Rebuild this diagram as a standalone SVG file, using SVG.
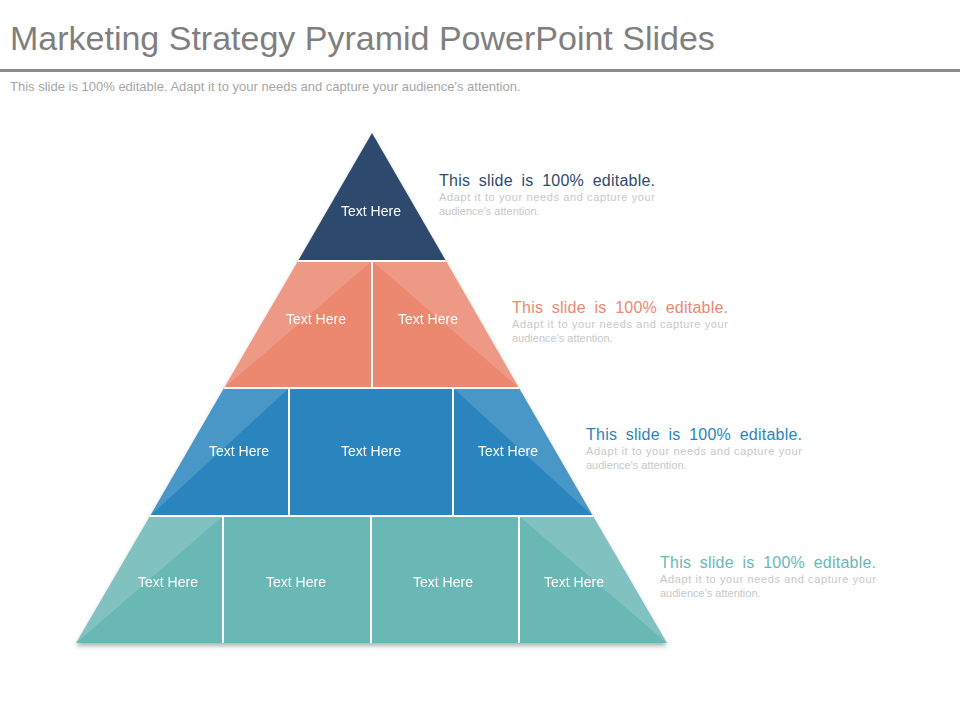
<svg xmlns="http://www.w3.org/2000/svg" width="960" height="720" viewBox="0 0 960 720">
<style>
text{font-family:"Liberation Sans",Arial,sans-serif}
.t{fill:#fff;font-size:14px;text-anchor:middle}
.h{font-size:16px;word-spacing:4px}
.s{fill:#c8c8c8;font-size:11px}
.sep{stroke:#fff;stroke-width:2}
.lt{fill:#fff;opacity:0.15}
</style>
<defs><filter id="sh" x="-5%" y="-5%" width="110%" height="120%"><feDropShadow dx="0" dy="3" stdDeviation="2" flood-color="#000" flood-opacity="0.3"/></filter></defs>
<rect width="960" height="720" fill="#fff"/>
<text x="10" y="50" font-size="34" fill="#7f7f7f">Marketing Strategy Pyramid PowerPoint Slides</text>
<rect x="0" y="69" width="960" height="3" fill="#8c8c8c"/>
<text x="10" y="91" font-size="13" fill="#a6a6a6">This slide is 100% editable. Adapt it to your needs and capture your audience's attention.</text>
<g id="pyramid" filter="url(#sh)">
<g id="tier1"><polygon points="372,133 446,261 298,261" fill="#2e4a6e"/><text class="t" x="371" y="216">Text Here</text></g>
<g id="tier2"><polygon points="298,261 446,261 519,388 224,388" fill="#ec8870"/>
<polygon class="lt" points="298,261 372,261 224,388"/><polygon class="lt" points="372,261 446,261 519,388"/>
<line class="sep" x1="372" y1="261" x2="372" y2="388"/>
<text class="t" x="316" y="324">Text Here</text><text class="t" x="428" y="324">Text Here</text></g>
<g id="tier3"><polygon points="224,388 519,388 593,516 150,516" fill="#2a85be"/>
<polygon class="lt" points="224,388 289,388 150,516"/><polygon class="lt" points="453,388 519,388 593,516"/>
<line class="sep" x1="289" y1="388" x2="289" y2="516"/><line class="sep" x1="453" y1="388" x2="453" y2="516"/>
<text class="t" x="239" y="456">Text Here</text><text class="t" x="371" y="456">Text Here</text><text class="t" x="508" y="456">Text Here</text></g>
<g id="tier4"><polygon points="150,516 593,516 667,643 76,643" fill="#6bb8b5"/>
<polygon class="lt" points="150,516 223,516 76,643"/><polygon class="lt" points="519,516 593,516 667,643"/>
<line class="sep" x1="223" y1="516" x2="223" y2="643"/><line class="sep" x1="371" y1="516" x2="371" y2="643"/><line class="sep" x1="519" y1="516" x2="519" y2="643"/>
<text class="t" x="168" y="587">Text Here</text><text class="t" x="296" y="587">Text Here</text><text class="t" x="443" y="587">Text Here</text><text class="t" x="574" y="587">Text Here</text></g>
<g stroke="#fff" stroke-width="2"><line x1="298" y1="261" x2="446" y2="261"/><line x1="224" y1="388" x2="519" y2="388"/><line x1="150" y1="516" x2="593" y2="516"/></g>
</g>
<g id="desc1"><text class="h" x="439" y="186" fill="#2e4a6e" textLength="216">This slide is 100% editable.</text><text class="s" x="439" y="201" textLength="216">Adapt it to your needs and capture your</text><text class="s" x="439" y="215">audience's attention.</text></g>
<g id="desc2"><text class="h" x="512" y="313" fill="#ec8870" textLength="216">This slide is 100% editable.</text><text class="s" x="512" y="328" textLength="216">Adapt it to your needs and capture your</text><text class="s" x="512" y="342">audience's attention.</text></g>
<g id="desc3"><text class="h" x="586" y="440" fill="#2a85be" textLength="216">This slide is 100% editable.</text><text class="s" x="586" y="455" textLength="216">Adapt it to your needs and capture your</text><text class="s" x="586" y="469">audience's attention.</text></g>
<g id="desc4"><text class="h" x="660" y="568" fill="#6bb8b5" textLength="216">This slide is 100% editable.</text><text class="s" x="660" y="583" textLength="216">Adapt it to your needs and capture your</text><text class="s" x="660" y="597">audience's attention.</text></g>
</svg>
